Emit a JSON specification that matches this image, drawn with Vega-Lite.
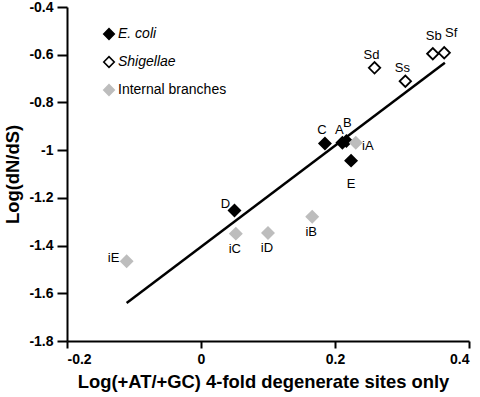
{
  "$schema": "https://vega.github.io/schema/vega-lite/v6.json",
  "width": 402,
  "height": 334,
  "autosize": {"type": "none"},
  "padding": {"left": 67, "top": 7, "right": 11, "bottom": 56},
  "background": "white",
  "config": {
    "view": {"stroke": null},
    "font": "Liberation Sans",
    "axis": {
      "grid": false,
      "domainColor": "black",
      "domainWidth": 2,
      "tickColor": "black",
      "tickWidth": 2,
      "labelColor": "black",
      "labelFont": "Liberation Sans",
      "labelFontSize": 14,
      "labelFontWeight": "bold",
      "titleColor": "black",
      "titleFont": "Liberation Sans",
      "titleFontSize": 18.4,
      "titleFontWeight": "bold"
    }
  },
  "datasets": {
    "pts": [
      {"name": "C", "group": "E. coli", "x": 0.185, "y": -0.972},
      {"name": "A", "group": "E. coli", "x": 0.211, "y": -0.969},
      {"name": "B", "group": "E. coli", "x": 0.217, "y": -0.962},
      {"name": "E", "group": "E. coli", "x": 0.224, "y": -1.044},
      {"name": "D", "group": "E. coli", "x": 0.050, "y": -1.253},
      {"name": "Sd", "group": "Shigellae", "x": 0.259, "y": -0.655},
      {"name": "Ss", "group": "Shigellae", "x": 0.305, "y": -0.711},
      {"name": "Sb", "group": "Shigellae", "x": 0.346, "y": -0.596},
      {"name": "Sf", "group": "Shigellae", "x": 0.363, "y": -0.592},
      {"name": "iA", "group": "Internal branches", "x": 0.231, "y": -0.969},
      {"name": "iB", "group": "Internal branches", "x": 0.166, "y": -1.279},
      {"name": "iC", "group": "Internal branches", "x": 0.052, "y": -1.350},
      {"name": "iD", "group": "Internal branches", "x": 0.100, "y": -1.347},
      {"name": "iE", "group": "Internal branches", "x": -0.111, "y": -1.466}
    ],
    "fit": [
      {"x": -0.111, "y": -1.641},
      {"x": 0.364, "y": -0.634}
    ]
  },
  "encoding": {
    "x": {
      "field": "x", "type": "quantitative",
      "scale": {"domain": [-0.2, 0.4], "nice": false, "zero": false},
      "axis": {
        "values": [-0.2, 0, 0.2, 0.4],
        "labelExpr": "'' + datum.value",
        "tickSize": 7,
        "labelPadding": 4,
        "title": "Log(+AT/+GC) 4-fold degenerate sites only",
        "titlePadding": 6,
        "titleX": 196
      }
    },
    "y": {
      "field": "y", "type": "quantitative",
      "scale": {"domain": [-1.8, -0.4], "nice": false, "zero": false},
      "axis": {
        "values": [-1.8, -1.6, -1.4, -1.2, -1, -0.8, -0.6, -0.4],
        "labelExpr": "'' + datum.value",
        "tickSize": 10,
        "labelPadding": 4,
        "title": "Log(dN/dS)",
        "titlePadding": 6
      }
    }
  },
  "layer": [
    {
      "data": {"name": "fit"},
      "mark": {"type": "line", "color": "black", "strokeWidth": 2.5}
    },
    {
      "data": {"name": "pts"},
      "mark": {"type": "point", "shape": "diamond", "size": 130, "strokeWidth": 1.8, "opacity": 1, "filled": false},
      "encoding": {
        "fill": {
          "field": "group", "type": "nominal",
          "scale": {"domain": ["E. coli", "Shigellae", "Internal branches"], "range": ["black", "white", "#bdbdbd"]},
          "legend": {
            "title": null,
            "orient": "none",
            "legendX": 35,
            "legendY": 20,
            "padding": 0,
            "symbolType": "diamond",
            "symbolSize": 110,
            "symbolStrokeWidth": 1.6,
            "labelFont": "Liberation Sans",
            "labelFontSize": 14,
            "labelColor": "black",
            "labelOffset": 2,
            "rowPadding": 10,
            "labelFontStyle": {"expr": "datum.value == 'Internal branches' ? 'normal' : 'italic'"}
          }
        },
        "stroke": {
          "field": "group", "type": "nominal",
          "scale": {"domain": ["E. coli", "Shigellae", "Internal branches"], "range": ["black", "black", "#bdbdbd"]},
          "legend": null
        }
      }
    },
    {
      "data": {"name": "pts"},
      "transform": [{"filter": {"field": "name", "oneOf": ["C", "A", "Sd", "Ss"]}}],
      "mark": {"type": "text", "fontSize": 13, "font": "Liberation Sans", "color": "black", "dx": -3, "dy": -13},
      "encoding": {"text": {"field": "name"}}
    },
    {
      "data": {"name": "pts"},
      "transform": [{"filter": {"field": "name", "oneOf": ["B", "Sb"]}}],
      "mark": {"type": "text", "fontSize": 13, "font": "Liberation Sans", "color": "black", "dx": 1, "dy": -18},
      "encoding": {"text": {"field": "name"}}
    },
    {
      "data": {"name": "pts"},
      "transform": [{"filter": {"field": "name", "oneOf": ["Sf"]}}],
      "mark": {"type": "text", "fontSize": 13, "font": "Liberation Sans", "color": "black", "dx": 7, "dy": -20},
      "encoding": {"text": {"field": "name"}}
    },
    {
      "data": {"name": "pts"},
      "transform": [{"filter": {"field": "name", "oneOf": ["iB", "iC", "iD"]}}],
      "mark": {"type": "text", "fontSize": 13, "font": "Liberation Sans", "color": "black", "dx": -1, "dy": 15},
      "encoding": {"text": {"field": "name"}}
    },
    {
      "data": {"name": "pts"},
      "transform": [{"filter": {"field": "name", "oneOf": ["E"]}}],
      "mark": {"type": "text", "fontSize": 13, "font": "Liberation Sans", "color": "black", "dy": 23},
      "encoding": {"text": {"field": "name"}}
    },
    {
      "data": {"name": "pts"},
      "transform": [{"filter": {"field": "name", "oneOf": ["D"]}}],
      "mark": {"type": "text", "fontSize": 13, "font": "Liberation Sans", "color": "black", "dx": -9, "dy": -7},
      "encoding": {"text": {"field": "name"}}
    },
    {
      "data": {"name": "pts"},
      "transform": [{"filter": {"field": "name", "oneOf": ["iE"]}}],
      "mark": {"type": "text", "fontSize": 13, "font": "Liberation Sans", "color": "black", "dx": -13, "dy": -3},
      "encoding": {"text": {"field": "name"}}
    },
    {
      "data": {"name": "pts"},
      "transform": [{"filter": {"field": "name", "oneOf": ["iA"]}}],
      "mark": {"type": "text", "fontSize": 13, "font": "Liberation Sans", "color": "black", "dx": 12, "dy": 3},
      "encoding": {"text": {"field": "name"}}
    }
  ]
}
